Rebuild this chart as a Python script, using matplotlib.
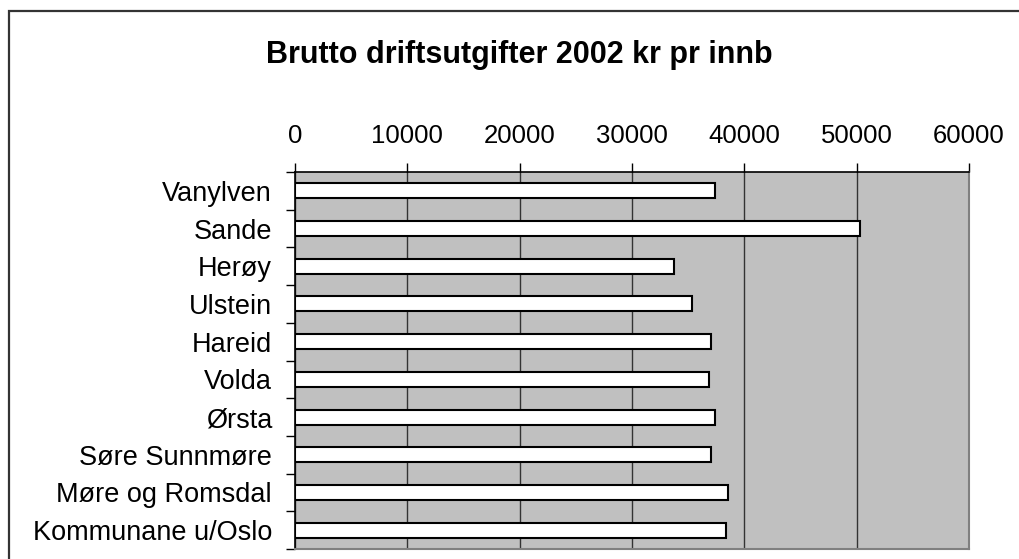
import numpy as np
import matplotlib.pyplot as plt
import matplotlib as mpl

plt.rcParams['font.family'] = ['Liberation Sans', 'DejaVu Sans']

# kommunar og brutto driftsutgifter (kr pr innbyggar, 2002)
kommunar = ["Vanylven", "Sande", "Herøy", "Ulstein", "Hareid", "Volda",
            "Ørsta", "Søre Sunnmøre", "Møre og Romsdal", "Kommunane u/Oslo"]
utgifter = [37360, 50330, 33740, 35370, 37030, 36880, 37360, 37030, 38520, 38340]
xticks = [0, 10000, 20000, 30000, 40000, 50000, 60000]

W, H = 1019, 559
fig = plt.figure(figsize=(W / 100, H / 100), dpi=100)

# outer chart border (cropped on right and bottom)
border = mpl.patches.Rectangle((8.5 / W, -0.1), 1.2, 1.1 - 11.5 / H,
                               transform=fig.transFigure, fill=False,
                               edgecolor="#333333", linewidth=1.6)
fig.patches.append(border)

fig.text(519 / W, 1 - 63.5 / H, "Brutto driftsutgifter 2002 kr pr innb",
         ha="center", va="baseline", fontsize=22, fontweight="bold")

ax = fig.add_axes([295 / W, 1 - 549 / H, (969 - 295) / W, (549 - 172) / H])
ax.set_facecolor("#C0C0C0")

n = len(kommunar)
y = np.arange(n)
ax.barh(y, utgifter, height=0.4, color="white", edgecolor="black",
        linewidth=1.5, zorder=3)

ax.set_xlim(0, 60000)
ax.set_ylim(n - 0.5, -0.5)

ax.xaxis.tick_top()
ax.set_xticks(xticks)
ax.set_xticklabels([str(v) for v in xticks])
ax.tick_params(axis="x", direction="out", length=6.5, width=1, pad=11,
               labelsize=18.5, color="black")
ax.grid(axis="x", color="#333333", linewidth=1, zorder=1)

ax.set_yticks(np.arange(n + 1) - 0.5)
ax.set_yticklabels([])
ax.set_yticks(y, minor=True)
ax.set_yticklabels(kommunar, minor=True)
ax.tick_params(axis="y", which="major", direction="out", length=6.5, width=1)
ax.tick_params(axis="y", which="minor", length=0, pad=16.5, labelsize=19.5)

ax.spines["top"].set_color("black")
ax.spines["left"].set_color("black")
ax.spines["top"].set_linewidth(1.2)
ax.spines["left"].set_linewidth(1.2)
ax.spines["right"].set_color("#808080")
ax.spines["bottom"].set_color("#808080")
ax.spines["right"].set_linewidth(1.5)
ax.spines["bottom"].set_linewidth(1.5)

plt.savefig("out.png", dpi=100)
plt.close()
